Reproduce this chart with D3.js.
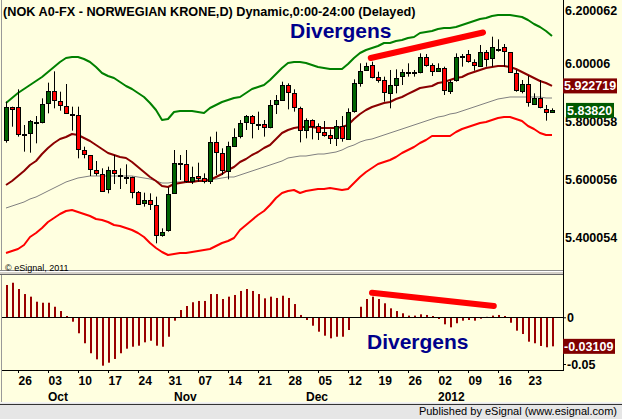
<!doctype html>
<html>
<head>
<script src="https://cdnjs.cloudflare.com/ajax/libs/d3/7.8.5/d3.min.js"></script>
<style>
  body { margin: 0; background: #ffffe0; }
  svg { display: block; font-family: Arial, "Liberation Sans", sans-serif; }
</style>
</head>
<body>
<svg width="622" height="419"></svg>
<script>
// trading days 22 Sep 2011 .. 27 Jan 2012 (weekdays)
var firstDay = new Date(2011, 8, 22), lastDay = new Date(2012, 0, 27);

var open  = [5.7362,5.8488,5.8488,5.7575,5.7615,5.7994,5.7982,5.8626,5.9040,5.8695,
             5.8523,5.8262,5.8212,5.7006,5.6845,5.6316,5.6178,5.5661,5.6316,5.6155,
             5.6100,5.6074,5.5580,5.5178,5.5281,5.5109,5.4074,5.4258,5.5523,5.6560,
             5.6523,5.5925,5.6120,5.6040,5.5925,5.7281,5.6902,5.6304,5.7155,5.7477,
             5.7971,5.8189,5.7916,5.7902,5.7798,5.8592,5.8741,5.9258,5.8971,5.8454,
             5.7707,5.8051,5.7844,5.7638,5.7534,5.7419,5.7844,5.7419,5.8339,5.9339,
             5.9776,5.9948,5.9523,5.9431,5.8971,5.9235,5.9546,5.9698,5.9698,5.9695,
             6.0212,5.9948,5.9730,5.9833,5.9063,5.9408,6.0273,6.0316,6.0040,5.9925,
             6.0408,6.0178,6.0503,6.0557,6.0385,5.9661,5.9028,5.9281,5.8626,5.8822,
             5.8419,5.8328];
var high  = [5.8684,5.8511,5.9109,5.7879,5.8051,5.8189,5.8799,5.9339,5.9730,5.9028,
             5.9293,5.8511,5.8511,5.7132,5.6845,5.6638,5.6385,5.6443,5.6845,5.6385,
             5.6523,5.6097,5.5603,5.5546,5.5523,5.5408,5.4316,5.5730,5.7017,5.6845,
             5.7017,5.6443,5.6580,5.6212,5.7477,5.7649,5.7075,5.7304,5.7764,5.8051,
             5.8224,5.8224,5.8339,5.8051,5.8741,5.8913,5.9373,5.9316,5.9109,5.8511,
             5.8109,5.8074,5.7936,5.8017,5.7730,5.8051,5.8189,5.8454,5.9454,6.0006,
             6.0029,6.0063,5.9718,5.9546,5.9776,5.9799,5.9799,6.0006,5.9776,6.0350,
             6.0327,6.0006,6.0006,5.9891,5.9431,6.0350,6.0327,6.0465,6.0144,6.0638,
             6.0465,6.0925,6.0833,6.0672,6.0385,5.9776,5.9431,5.9580,5.8971,5.9431,
             5.8569,5.8454];
var low   = [5.7270,5.7821,5.7477,5.6960,5.6925,5.7247,5.7936,5.8281,5.8454,5.8373,
             5.8258,5.7684,5.6730,5.6730,5.6120,5.6132,5.5580,5.5523,5.5844,5.5672,
             5.5844,5.5350,5.5155,5.5063,5.4948,5.3799,5.4028,5.4201,5.5500,5.5983,
             5.5890,5.5844,5.5925,5.5867,5.5844,5.6155,5.6155,5.6005,5.7132,5.7419,
             5.7707,5.7419,5.7707,5.7477,5.7764,5.8258,5.8718,5.8419,5.8339,5.7281,
             5.7419,5.7385,5.7362,5.7477,5.7224,5.7155,5.7304,5.7385,5.8304,5.9201,
             5.9753,5.9488,5.9339,5.8684,5.8454,5.8971,5.9258,5.9546,5.9546,5.9661,
             5.9891,5.9569,5.9718,5.8914,5.8948,5.9373,5.9891,6.0029,5.9753,5.9914,
             5.9891,5.9891,6.0408,5.9891,5.9684,5.9028,5.8971,5.8511,5.8569,5.8454,
             5.8029,5.8305];
var close = [5.8488,5.8419,5.7557,5.7565,5.8017,5.7990,5.8592,5.9040,5.8718,5.8557,
             5.8281,5.8255,5.7040,5.6868,5.6350,5.6212,5.5580,5.6316,5.6212,5.6120,
             5.6094,5.5557,5.5178,5.5281,5.5155,5.4086,5.4189,5.5500,5.6557,5.6553,
             5.5925,5.6074,5.6040,5.5948,5.7281,5.6937,5.6304,5.7155,5.7454,5.7936,
             5.8189,5.7936,5.7910,5.7798,5.8569,5.8730,5.9258,5.9005,5.8477,5.7707,
             5.8051,5.7844,5.7649,5.7546,5.7419,5.7844,5.7442,5.8339,5.9316,5.9753,
             5.9914,5.9523,5.9431,5.9005,5.9258,5.9488,5.9695,5.9692,5.9692,6.0212,
             5.9948,5.9753,5.9833,5.9086,5.9373,6.0212,6.0267,6.0063,5.9925,6.0408,
             6.0178,6.0557,6.0497,6.0408,5.9695,5.9063,5.9281,5.8661,5.8822,5.8511,
             5.8316,5.8382];

var upperBand = [5.8638,5.8810,5.8983,5.9121,5.9259,5.9397,5.9534,5.9707,5.9879,6.0052,
                 6.0190,6.0224,6.0224,6.0155,6.0052,5.9879,5.9673,5.9569,5.9500,5.9362,
                 5.9224,5.9121,5.8983,5.8845,5.8638,5.8397,5.8052,5.8086,5.8328,5.8362,
                 5.8362,5.8362,5.8328,5.8293,5.8466,5.8569,5.8672,5.8742,5.8810,5.8845,
                 5.8983,5.9121,5.9190,5.9259,5.9431,5.9638,5.9845,6.0017,6.0052,6.0052,
                 6.0017,5.9948,5.9879,5.9845,5.9810,5.9810,5.9810,5.9983,6.0190,6.0362,
                 6.0466,6.0535,6.0604,6.0707,6.0707,6.0776,6.0810,6.0879,6.0914,6.1052,
                 6.1086,6.1121,6.1190,6.1224,6.1224,6.1259,6.1328,6.1397,6.1466,6.1535,
                 6.1569,6.1638,6.1672,6.1672,6.1672,6.1638,6.1604,6.1500,6.1362,6.1259,
                 6.1121,6.0948];
var midLine   = [5.5810,5.5948,5.6121,5.6293,5.6500,5.6638,5.6879,5.7086,5.7259,5.7397,
                 5.7466,5.7569,5.7535,5.7431,5.7328,5.7190,5.7052,5.6914,5.6845,5.6776,
                 5.6742,5.6604,5.6431,5.6259,5.6086,5.5948,5.5776,5.5741,5.5845,5.5879,
                 5.5914,5.5914,5.5948,5.5948,5.5983,5.6086,5.6190,5.6328,5.6431,5.6604,
                 5.6707,5.6845,5.6948,5.7086,5.7190,5.7397,5.7604,5.7707,5.7776,5.7810,
                 5.7810,5.7810,5.7776,5.7776,5.7776,5.7776,5.7810,5.7879,5.8086,5.8259,
                 5.8397,5.8500,5.8569,5.8638,5.8672,5.8776,5.8845,5.8949,5.9052,5.9155,
                 5.9190,5.9224,5.9328,5.9362,5.9431,5.9500,5.9534,5.9638,5.9707,5.9776,
                 5.9845,5.9879,5.9914,5.9914,5.9879,5.9810,5.9707,5.9604,5.9500,5.9397,
                 5.9328,5.9227];
var avgLine   = [5.5017,5.5086,5.5155,5.5224,5.5328,5.5397,5.5500,5.5604,5.5707,5.5810,
                 5.5914,5.5983,5.6052,5.6086,5.6121,5.6121,5.6121,5.6121,5.6121,5.6121,
                 5.6121,5.6121,5.6086,5.6052,5.6017,5.5948,5.5879,5.5879,5.5914,5.5914,
                 5.5914,5.5948,5.5983,5.5983,5.6017,5.6017,5.6052,5.6086,5.6086,5.6155,
                 5.6224,5.6293,5.6362,5.6431,5.6500,5.6569,5.6638,5.6742,5.6776,5.6810,
                 5.6810,5.6845,5.6879,5.6879,5.6914,5.6948,5.7017,5.7121,5.7190,5.7293,
                 5.7362,5.7397,5.7466,5.7535,5.7604,5.7672,5.7741,5.7810,5.7879,5.7948,
                 5.8017,5.8086,5.8155,5.8190,5.8259,5.8293,5.8362,5.8431,5.8500,5.8569,
                 5.8638,5.8707,5.8776,5.8810,5.8845,5.8845,5.8845,5.8845,5.8845,5.8845,
                 5.8810,5.8810];
var lowerBand = [5.3466,5.3535,5.3604,5.3742,5.4017,5.4155,5.4328,5.4535,5.4673,5.4810,
                 5.4914,5.4948,5.4879,5.4810,5.4741,5.4638,5.4604,5.4535,5.4431,5.4397,
                 5.4328,5.4259,5.4155,5.4017,5.3810,5.3638,5.3500,5.3397,5.3431,5.3466,
                 5.3466,5.3500,5.3535,5.3569,5.3604,5.3707,5.3810,5.3879,5.3983,5.4259,
                 5.4431,5.4604,5.4776,5.4914,5.5121,5.5362,5.5535,5.5604,5.5638,5.5535,
                 5.5604,5.5638,5.5673,5.5673,5.5707,5.5673,5.5638,5.5673,5.5879,5.6086,
                 5.6259,5.6397,5.6535,5.6604,5.6673,5.6776,5.6914,5.7017,5.7121,5.7259,
                 5.7362,5.7500,5.7500,5.7500,5.7500,5.7638,5.7741,5.7810,5.7879,5.7948,
                 5.7983,5.8052,5.8121,5.8155,5.8155,5.8086,5.8017,5.7845,5.7741,5.7604,
                 5.7535,5.7535];

var histo = [0.0346,0.0370,0.0303,0.0249,0.0221,0.0167,0.0156,0.0156,0.0113,0.0067,
             0.0014,-0.0047,-0.0171,-0.0278,-0.0385,-0.0450,-0.0518,-0.0486,-0.0446,-0.0385,
             -0.0336,-0.0315,-0.0304,-0.0268,-0.0251,-0.0304,-0.0315,-0.0208,-0.0036,0.0078,
             0.0121,0.0161,0.0175,0.0175,0.0249,0.0249,0.0196,0.0221,0.0239,0.0282,
             0.0303,0.0282,0.0249,0.0203,0.0221,0.0207,0.0231,0.0207,0.0142,0.0025,
             -0.0029,-0.0090,-0.0154,-0.0197,-0.0225,-0.0208,-0.0208,-0.0136,0.0003,0.0113,
             0.0196,0.0221,0.0196,0.0150,0.0096,0.0067,0.0043,0.0018,0.0018,0.0032,
             0.0025,0.0014,-0.0018,-0.0075,-0.0107,-0.0064,-0.0036,-0.0029,-0.0036,-0.0015,
             0.0005,0.0018,0.0025,0.0014,-0.0058,-0.0143,-0.0179,-0.0261,-0.0278,-0.0307,
             -0.0321,-0.0311];

var priceTicks = [6.200062, 6.00006, 5.800058, 5.600056, 5.400054];
var priceTickLabels = ["6.200062", "6.00006", "5.800058", "5.600056", "5.400054"];
var histTicks = [0, -0.05];
var histTickLabels = ["0", "-0.05"];
var lastMid = 5.922719, lastClose = 5.83820, lastHist = -0.03109;

// hand-drawn divergence marks: [bar index, value]
var priceDivergence = [[60.8, 6.019], [79.5, 6.107]];
var histDivergence = [[61.0, 0.0263], [81.3, 0.0121]];

var titleText = "(NOK A0-FX - NORWEGIAN KRONE,D) Dynamic,0:00-24:00 (Delayed)";

var days = [];
for (var d = new Date(firstDay); d <= lastDay; d.setDate(d.getDate() + 1)) {
    if (d.getDay() > 0 && d.getDay() < 6) days.push(new Date(d));
}

var svg = d3.select("svg");
var W = 622, H = 419, plotRight = 563;

var x = d3.scaleLinear().domain([0, days.length - 1]).range([6, 552]);
var y = d3.scaleLinear().domain([5.4, 6.0]).range([237.5, 63.5]);
var yh = d3.scaleLinear().domain([-0.05, 0]).range([364, 317.3]);

// backgrounds and frame
svg.append("rect").attr("width", W).attr("height", H).attr("fill", "#ffffe0");
svg.append("rect").attr("x", 0).attr("y", 402).attr("width", W).attr("height", 17).attr("fill", "#e6e6e6");
svg.append("line").attr("x1", 0).attr("x2", W).attr("y1", 402.5).attr("y2", 402.5).attr("stroke", "#f4f4f4");
svg.append("line").attr("x1", 0).attr("x2", W).attr("y1", 404.5).attr("y2", 404.5).attr("stroke", "#333");
svg.append("line").attr("x1", 1.5).attr("x2", 1.5).attr("y1", 0).attr("y2", 402).attr("stroke", "#999");

// panel separator
svg.append("rect").attr("x", 0).attr("y", 270).attr("width", plotRight).attr("height", 5).attr("fill", "#d4d0c8");
svg.append("line").attr("x1", 0).attr("x2", plotRight).attr("y1", 270.5).attr("y2", 270.5).attr("stroke", "#888");
svg.append("line").attr("x1", 0).attr("x2", plotRight).attr("y1", 271.5).attr("y2", 271.5).attr("stroke", "#fff");
svg.append("line").attr("x1", 0).attr("x2", plotRight).attr("y1", 274.5).attr("y2", 274.5).attr("stroke", "#666");

svg.append("defs").append("clipPath").attr("id", "priceClip")
    .append("rect").attr("x", 2).attr("y", 0).attr("width", plotRight - 2).attr("height", 270);

var price = svg.append("g").attr("clip-path", "url(#priceClip)");

function bandLine(arr, color, width) {
    price.append("path")
        .datum(arr)
        .attr("d", d3.line().x((d, i) => x(i)).y(d => y(d)))
        .attr("fill", "none")
        .attr("stroke", color)
        .attr("stroke-width", width)
        .attr("stroke-linejoin", "round");
}
bandLine(upperBand, "#008000", 2);
bandLine(lowerBand, "#ff0000", 2);
bandLine(avgLine, "#808080", 1);
bandLine(midLine, "#8b0000", 2);

// candles
var candles = price.selectAll("g.candle")
    .data(days.map((d, i) => ({ i: i, o: open[i], h: high[i], l: low[i], c: close[i] })))
    .enter().append("g");
candles.append("line")
    .attr("x1", d => x(d.i) + 0.5).attr("x2", d => x(d.i) + 0.5)
    .attr("y1", d => y(d.h)).attr("y2", d => y(d.l))
    .attr("stroke", "#000");
candles.append("rect")
    .attr("x", d => x(d.i) - 1.5)
    .attr("width", 4)
    .attr("y", d => Math.round(y(Math.max(d.o, d.c))) + 0.5)
    .attr("height", d => Math.max(1, Math.round(Math.abs(y(d.o) - y(d.c)))))
    .attr("fill", d => d.c >= d.o ? "#006400" : "#ff0000")
    .attr("stroke", "#000");

// divergence mark on price
price.append("line")
    .attr("x1", x(priceDivergence[0][0])).attr("y1", y(priceDivergence[0][1]))
    .attr("x2", x(priceDivergence[1][0])).attr("y2", y(priceDivergence[1][1]))
    .attr("stroke", "#ff0000").attr("stroke-width", 6).attr("stroke-linecap", "round");

svg.append("text").attr("x", 3).attr("y", 16)
    .attr("font-size", "12.7px").attr("font-weight", "bold").attr("fill", "#000")
    .text(titleText);
svg.append("text").attr("x", 290).attr("y", 38)
    .attr("font-size", "21px").attr("font-weight", "bold").attr("fill", "#00008b")
    .text("Divergens");
svg.append("text").attr("x", 5).attr("y", 271)
    .attr("font-size", "9px").attr("fill", "#000")
    .text("\u00a9 eSignal, 2011");

// histogram panel
var hist = svg.append("g");
hist.selectAll("rect")
    .data(histo)
    .enter().append("rect")
    .attr("x", (d, i) => x(i))
    .attr("width", 2)
    .attr("y", d => Math.min(yh(d), yh(0)))
    .attr("height", d => Math.abs(yh(d) - yh(0)))
    .attr("fill", "#990000");
hist.append("line").attr("x1", 2).attr("x2", plotRight).attr("y1", 317.5).attr("y2", 317.5).attr("stroke", "#000");
hist.append("line")
    .attr("x1", x(histDivergence[0][0])).attr("y1", yh(histDivergence[0][1]))
    .attr("x2", x(histDivergence[1][0])).attr("y2", yh(histDivergence[1][1]))
    .attr("stroke", "#ff0000").attr("stroke-width", 6).attr("stroke-linecap", "round");
hist.append("text").attr("x", 367).attr("y", 349)
    .attr("font-size", "21px").attr("font-weight", "bold").attr("fill", "#00008b")
    .text("Divergens");

// right axis line and bottom axis line
svg.append("line").attr("x1", plotRight + 0.5).attr("x2", plotRight + 0.5).attr("y1", 0).attr("y2", 371).attr("stroke", "#000");
svg.append("line").attr("x1", 2).attr("x2", plotRight + 1).attr("y1", 370.5).attr("y2", 370.5).attr("stroke", "#000");

// price axis
var pAxis = svg.append("g").attr("transform", "translate(" + plotRight + ",0)")
    .call(d3.axisRight(y).tickValues(priceTicks).tickSize(0).tickPadding(2)
        .tickFormat((d, i) => priceTickLabels[i]));
pAxis.select(".domain").remove();
pAxis.selectAll("text")
    .attr("font-size", "12.5px").attr("font-weight", "bold").attr("font-family", "Arial, 'Liberation Sans', sans-serif")
    .attr("fill", "#000")
    .attr("y", d => Math.max(0, 10 - y(d)));

function valueBox(g, v, sc, label, color, x0, w) {
    var yy = sc(v);
    g.append("rect").attr("x", x0).attr("y", yy - 7.5).attr("width", w).attr("height", 15).attr("fill", color);
    g.append("text").attr("x", x0 + 1).attr("y", yy + 4.5)
        .attr("font-size", "12.5px").attr("font-weight", "bold").attr("fill", "#fff").text(label);
}
valueBox(svg, lastMid, y, "5.922719", "#800000", 563, 54);
valueBox(svg, lastClose, y, "5.83820", "#005a00", 566, 48);

// histogram axis
var hAxis = svg.append("g").attr("transform", "translate(" + plotRight + ",0)")
    .call(d3.axisRight(yh).tickValues(histTicks).tickSize(3).tickPadding(1)
        .tickFormat((d, i) => histTickLabels[i]));
hAxis.select(".domain").remove();
hAxis.selectAll("line").attr("stroke", "#000");
hAxis.selectAll("text")
    .attr("font-size", "12.5px").attr("font-weight", "bold").attr("font-family", "Arial, 'Liberation Sans', sans-serif")
    .attr("fill", "#000");
valueBox(svg, lastHist, yh, "-0.03109", "#800000", 563, 52);

// time axis
var mondays = days.map((d, i) => i).filter(i => days[i].getDay() === 1);
var xAxis = svg.append("g").attr("transform", "translate(0,370)")
    .call(d3.axisBottom(x).tickValues(mondays).tickSize(3).tickPadding(3)
        .tickFormat(i => d3.timeFormat("%d")(days[i])));
xAxis.select(".domain").remove();
xAxis.selectAll("line").attr("stroke", "#000");
xAxis.selectAll("text")
    .attr("text-anchor", "start")
    .attr("font-size", "12px").attr("font-weight", "bold").attr("font-family", "Arial, 'Liberation Sans', sans-serif")
    .attr("fill", "#000");

var monthStarts = days.map((d, i) => i).filter(i => i > 0 && days[i].getMonth() !== days[i - 1].getMonth());
svg.append("g").selectAll("text")
    .data(monthStarts)
    .enter().append("text")
    .attr("x", i => x(i))
    .attr("y", 401)
    .attr("font-size", "12px").attr("font-weight", "bold").attr("fill", "#000")
    .text(i => days[i].getMonth() === 0 ? d3.timeFormat("%Y")(days[i]) : d3.timeFormat("%b")(days[i]));

svg.append("text").attr("x", 617).attr("y", 415).attr("text-anchor", "end")
    .attr("font-size", "11px").attr("fill", "#000")
    .text("Published by eSignal (www.esignal.com)");
</script>
</body>
</html>
